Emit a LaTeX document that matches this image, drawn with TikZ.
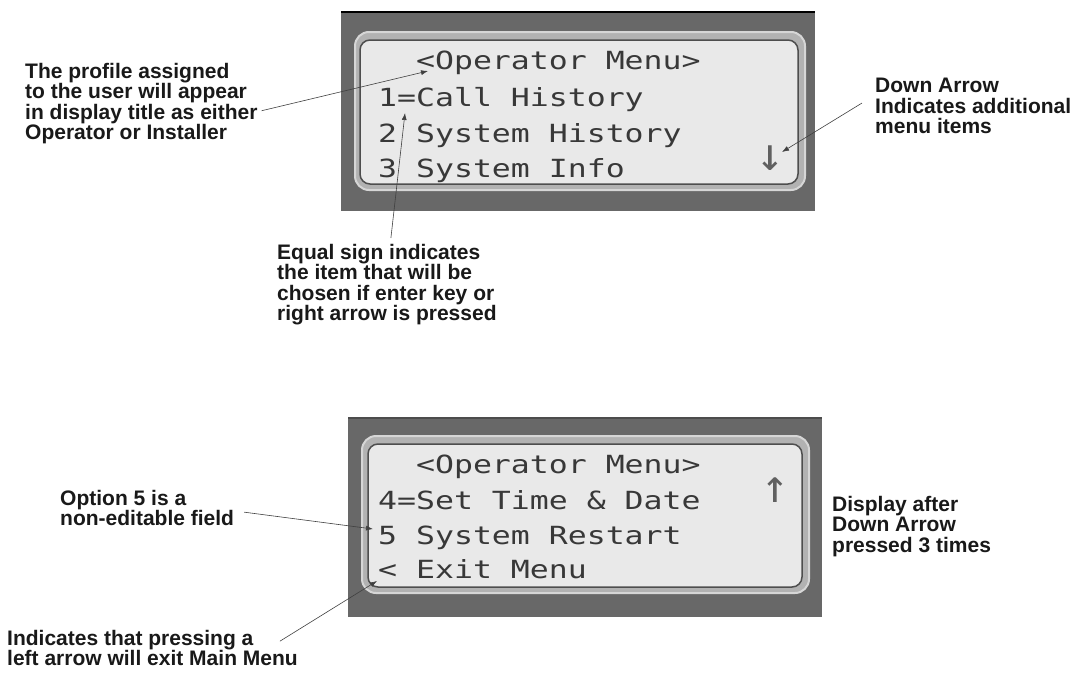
\documentclass[tikz,border=0pt]{standalone}
\usepackage{fontspec}
\usetikzlibrary{arrows.meta}
\setmainfont{Liberation Sans}
\newfontfamily\lcdfont[FakeStretch=1.26]{DejaVu Sans Mono}
\newfontfamily\lcdarrows{DejaVu Sans Mono}

\definecolor{framegray}{HTML}{686868}
\definecolor{bezelgray}{HTML}{B2B2B2}
\definecolor{bezeledge}{HTML}{D6D6D6}
\definecolor{lcdback}{HTML}{E9E9E9}
\definecolor{lcdline}{HTML}{4E4E4E}
\definecolor{lcdtext}{HTML}{383838}

\tikzset{
  note/.style={anchor=north west, inner sep=0pt, align=left, text=black!90,
    font=\bfseries\fontsize{21}{20.5}\selectfont},
  lcdrow/.style={anchor=base west, inner sep=0pt, text=lcdtext,
    font=\lcdfont\fontsize{25}{30}\selectfont},
  lcdsign/.style={inner sep=0pt, text=lcdtext!80,
    font=\lcdarrows\fontsize{46}{46}\selectfont},
  callout/.style={->, draw=black!75, line width=0.6pt},
}

\begin{document}
\begin{tikzpicture}[x=1pt, y=-1pt, >={Latex[length=7pt,width=5pt]}]
\useasboundingbox[fill=white] (0,0) rectangle (1076,672);

% Top display
\fill[framegray] (341,12) rectangle (815,211);
\draw[black, line width=2.5pt] (341,12) -- (815,12);
\filldraw[fill=bezelgray, draw=bezeledge, line width=2pt, rounded corners=14pt] (355,32) rectangle (805,190);
\filldraw[fill=lcdback, draw=lcdline, line width=1.5pt, rounded corners=10pt] (360,40) rectangle (798,184);
\node[lcdrow] (top1) at (378,69)  {\ \ <Operator Menu>};
\node[lcdrow] (top2) at (378,106) {1=Call History};
\node[lcdrow] (top3) at (378,142) {2 System History};
\node[lcdrow] (top4) at (378,177) {3 System Info};
\node[lcdsign] (down) at (770,158) {↓};

% Bottom display
\fill[framegray] (348,418) rectangle (822,617);
\draw[black!70, line width=2pt] (348,418) -- (822,418);
\filldraw[fill=bezelgray, draw=bezeledge, line width=2pt, rounded corners=14pt] (362,436) rectangle (809,593);
\filldraw[fill=lcdback, draw=lcdline, line width=1.5pt, rounded corners=10pt] (368,444) rectangle (802,587);
\node[lcdrow] (bot1) at (378,473) {\ \ <Operator Menu>};
\node[lcdrow] (bot2) at (378,509) {4=Set Time \& Date};
\node[lcdrow] (bot3) at (378,544) {5 System Restart};
\node[lcdrow] (bot4) at (378,578) {< Exit Menu};
\node[lcdsign] (up) at (775,490) {↑};

% Notes
\node[note] (profile) at (25,63) {The profile assigned\\to the user will appear\\in display title as either\\Operator or Installer};
\node[note] (equal) at (277,244) {Equal sign indicates\\the item that will be\\chosen if enter key or\\right arrow is pressed};
\node[note] (downnote) at (875,78) {Down Arrow\\Indicates additional\\menu items};
\node[note] (optnote) at (60,490) {Option 5 is a\\non-editable field};
\node[note] (exitnote) at (7,630) {Indicates that pressing a\\left arrow will exit Main Menu};
\node[note] (after) at (832,496) {Display after\\Down Arrow\\pressed 3 times};

% Arrow tips
\coordinate (tipOp) at (428,71);
\coordinate (tipEq) at (405,113);
\coordinate (tipDown) at (782,152);
\coordinate (tipFive) at (373,529);
\coordinate (tipExit) at (377,581);

% Callouts
\draw[callout] ([shift={(4,7)}]profile.east) -- (tipOp);
\draw[callout] ([shift={(4,-6)}]equal.north) -- (tipEq);
\draw[callout] ([shift={(-13,-3)}]downnote.west) -- (tipDown);
\draw[callout] ([shift={(10,4)}]optnote.east) -- (tipFive);
\draw[callout] ([shift={(-18,-7)}]exitnote.east) -- (tipExit);
\end{tikzpicture}
\end{document}
